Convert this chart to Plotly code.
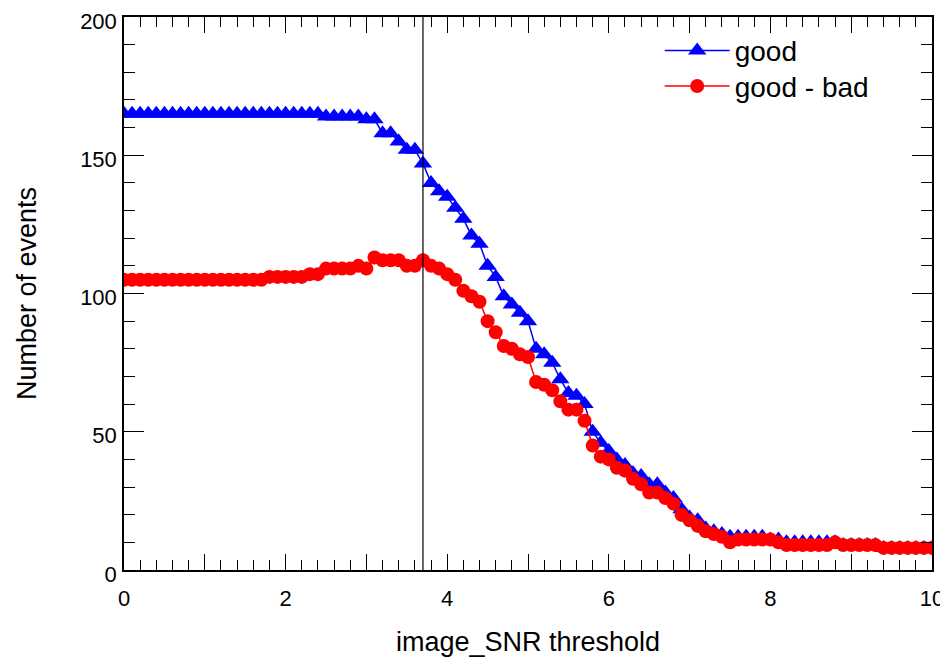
import plotly.graph_objects as go

x_vals = [round(i * 0.1, 1) for i in range(101)]

good = ([165] * 25 +                       # 0.0 - 2.4
        [164] * 5 +                        # 2.5 - 2.9
        [163, 163,                         # 3.0, 3.1
         158, 158, 155, 152, 152, 147,     # 3.2 - 3.7
         140, 137, 135, 131, 127, 121, 118, 110, 106, 99,  # 3.8 - 4.7
         96, 93, 90, 80, 78, 75, 69, 64, 63, 60,           # 4.8 - 5.7
         50, 46, 43, 40, 38, 35, 34, 31, 31, 28,           # 5.8 - 6.7
         26, 22, 19, 18, 15, 14, 13] +                     # 6.8 - 7.4
        [12] * 5 +                         # 7.5 - 7.9
        [11] * 2 +                         # 8.0 - 8.1
        [10] * 7 +                         # 8.2 - 8.8
        [9] * 5 +                          # 8.9 - 9.3
        [8] * 7)                           # 9.4 - 10.0

good_minus_bad = ([105] * 18 +             # 0.0 - 1.7
                  [106] * 5 +              # 1.8 - 2.2
                  [107] * 2 +              # 2.3 - 2.4
                  [109, 109, 109, 109, 110, 109,   # 2.5 - 3.0
                   113, 112, 112, 112, 110, 110, 112,  # 3.1 - 3.7
                   110, 109, 107, 105, 101, 99, 97, 90, 86, 81,  # 3.8 - 4.7
                   80, 78, 77, 68, 67, 65, 61, 58, 58, 54,       # 4.8 - 5.7
                   45, 41, 40, 37, 36, 33, 31, 28, 28, 26,       # 5.8 - 6.7
                   24, 20, 18, 16, 14, 13, 12,                   # 6.8 - 7.4
                   10, 11, 11, 11, 11, 11, 10] +                 # 7.5 - 8.1
                  [9] * 6 +                # 8.2 - 8.7
                  [10] +                   # 8.8
                  [9] * 5 +                # 8.9 - 9.3
                  [8] * 7)                 # 9.4 - 10.0

cut_value = 3.7
x_tick_vals = list(range(0, 11))
x_tick_text = [str(v) if v % 2 == 0 else "" for v in x_tick_vals]
y_tick_vals = [0, 50, 100, 150, 200]

FONT = "Liberation Sans, Arial, sans-serif"

fig = go.Figure()
fig.add_trace(go.Scatter(
    x=x_vals, y=good, mode="lines+markers", name="good", legend="legend",
    line=dict(color="#0000ff", width=1.5),
    marker=dict(symbol="triangle-up", size=16, color="#0000ff", line=dict(width=0)),
))
fig.add_trace(go.Scatter(
    x=x_vals, y=good_minus_bad, mode="lines+markers", name="good - bad", legend="legend2",
    line=dict(color="#ff0000", width=1.5),
    marker=dict(symbol="circle", size=14, color="#ff0000", line=dict(width=0)),
))

fig.add_shape(type="line", xref="x", yref="paper", x0=cut_value, x1=cut_value,
              y0=0, y1=1, line=dict(color="black", width=1.2), layer="above")

legend_style = dict(xanchor="left", yanchor="top", bgcolor="rgba(0,0,0,0)",
                    font=dict(size=28, family=FONT), itemwidth=65)

fig.update_layout(
    width=940, height=649,
    margin=dict(l=116, r=16, t=9, b=87, autoexpand=False),
    paper_bgcolor="white", plot_bgcolor="white",
    font=dict(family=FONT, color="black", size=22),
    showlegend=True,
    legend=dict(x=0.663, y=0.984, **legend_style),
    legend2=dict(x=0.663, y=0.920, **legend_style),
    xaxis=dict(
        range=[0, 10], showgrid=False, zeroline=False, automargin=False,
        showline=True, linecolor="black", linewidth=1.5, mirror="allticks",
        ticks="inside", ticklen=16, tickwidth=1.2, tickcolor="black",
        tickvals=x_tick_vals, ticktext=x_tick_text, ticklabeloverflow="allow",
        tickfont=dict(size=22, family=FONT), ticklabelstandoff=8,
        minor=dict(dtick=0.2, ticks="inside", ticklen=10, tickwidth=1.2, tickcolor="black"),
        title=dict(text="image_SNR threshold", font=dict(size=27, family=FONT), standoff=22),
    ),
    yaxis=dict(
        range=[0, 200], showgrid=False, zeroline=False, automargin=False,
        showline=True, linecolor="black", linewidth=1.5, mirror="allticks",
        ticks="inside", ticklen=20, tickwidth=1.2, tickcolor="black",
        tickvals=y_tick_vals, ticklabeloverflow="allow", ticklabelshift=4,
        tickfont=dict(size=22, family=FONT), ticklabelstandoff=1,
        minor=dict(dtick=10, ticks="inside", ticklen=11, tickwidth=1.2, tickcolor="black"),
        title=dict(text="Number of events", font=dict(size=27, family=FONT), standoff=36),
    ),
)

fig.write_html("out.html")
